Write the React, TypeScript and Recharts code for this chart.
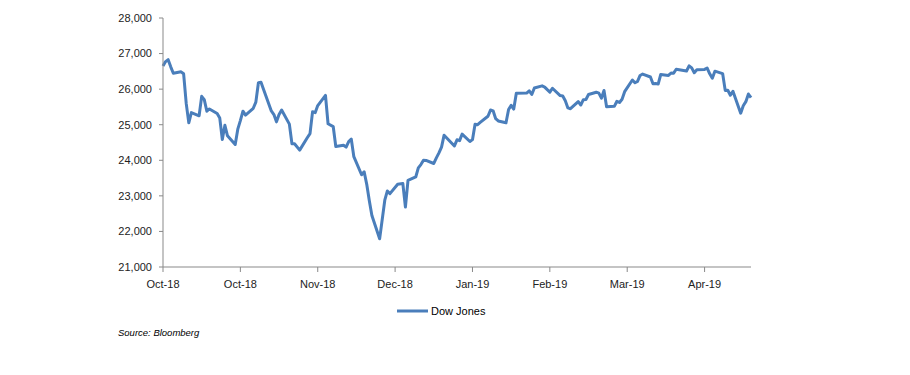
import React from "react";
import { LineChart, Line, XAxis, YAxis, Legend } from "recharts";

const dates: string[] = [
  // Oct 2018
  "2018-10-01","2018-10-02","2018-10-03","2018-10-04","2018-10-05","2018-10-08","2018-10-09","2018-10-10","2018-10-11","2018-10-12",
  "2018-10-15","2018-10-16","2018-10-17","2018-10-18","2018-10-19","2018-10-22","2018-10-23","2018-10-24","2018-10-25","2018-10-26",
  "2018-10-29","2018-10-30","2018-10-31",
  // Nov 2018
  "2018-11-01","2018-11-02","2018-11-05","2018-11-06","2018-11-07","2018-11-08","2018-11-09","2018-11-12","2018-11-13","2018-11-14",
  "2018-11-15","2018-11-16","2018-11-19","2018-11-20","2018-11-21","2018-11-23","2018-11-26","2018-11-27","2018-11-28","2018-11-29",
  "2018-11-30",
  // Dec 2018
  "2018-12-03","2018-12-04","2018-12-06","2018-12-07","2018-12-10","2018-12-11","2018-12-12","2018-12-13","2018-12-14","2018-12-17",
  "2018-12-18","2018-12-19","2018-12-20","2018-12-21","2018-12-24","2018-12-26","2018-12-27","2018-12-28","2018-12-31",
  // Jan 2019
  "2019-01-02","2019-01-03","2019-01-04","2019-01-07","2019-01-08","2019-01-09","2019-01-10","2019-01-11","2019-01-14","2019-01-15",
  "2019-01-16","2019-01-17","2019-01-18","2019-01-22","2019-01-23","2019-01-24","2019-01-25","2019-01-28","2019-01-29","2019-01-30",
  "2019-01-31",
  // Feb 2019
  "2019-02-01","2019-02-04","2019-02-05","2019-02-06","2019-02-07","2019-02-08","2019-02-11","2019-02-12","2019-02-13","2019-02-14",
  "2019-02-15","2019-02-19","2019-02-20","2019-02-21","2019-02-22","2019-02-25","2019-02-26","2019-02-27","2019-02-28",
  // Mar 2019
  "2019-03-01","2019-03-04","2019-03-05","2019-03-06","2019-03-07","2019-03-08","2019-03-11","2019-03-12","2019-03-13","2019-03-14",
  "2019-03-15","2019-03-18","2019-03-19","2019-03-20","2019-03-21","2019-03-22","2019-03-25","2019-03-26","2019-03-27","2019-03-28",
  "2019-03-29",
  // Apr 2019
  "2019-04-01","2019-04-02","2019-04-03","2019-04-04","2019-04-05","2019-04-08","2019-04-09","2019-04-10","2019-04-11","2019-04-12",
  "2019-04-15","2019-04-16","2019-04-17","2019-04-18","2019-04-22","2019-04-23","2019-04-24","2019-04-25","2019-04-26","2019-04-29",
  "2019-04-30",
  // May 2019
  "2019-05-01","2019-05-02","2019-05-03","2019-05-06","2019-05-07","2019-05-08","2019-05-09","2019-05-10","2019-05-13","2019-05-14",
  "2019-05-15","2019-05-16","2019-05-17",
];

const dowJones: number[] = [
  // Oct 2018
  26651, 26774, 26828, 26627, 26447, 26487, 26431, 25599, 25053, 25340,
  25251, 25798, 25707, 25379, 25444, 25317, 25191, 24583, 24985, 24688,
  24443, 24875, 25116,
  // Nov 2018
  25381, 25271, 25462, 25635, 26180, 26191, 25989, 25387, 25286, 25081,
  25289, 25413, 25017, 24466, 24465, 24286, 24640, 24749, 25366, 25339,
  25538,
  // Dec 2018
  25826, 25027, 24948, 24389, 24423, 24370, 24527, 24597, 24101, 23593,
  23676, 23324, 22860, 22445, 21792, 22878, 23139, 23062, 23327,
  // Jan 2019
  23346, 22686, 23433, 23531, 23787, 23879, 24002, 23996, 23910, 24066,
  24207, 24370, 24706, 24404, 24576, 24553, 24737, 24528, 24580, 25015,
  25000,
  // Feb 2019
  25064, 25239, 25412, 25390, 25170, 25106, 25053, 25426, 25543, 25439,
  25883, 25891, 25954, 25851, 26032, 26092, 26058, 25985, 25916,
  // Mar 2019
  26026, 25820, 25807, 25673, 25473, 25450, 25651, 25555, 25703, 25710,
  25849, 25914, 25887, 25746, 25963, 25502, 25517, 25658, 25626, 25717,
  25929,
  // Apr 2019
  26258, 26179, 26218, 26385, 26425, 26341, 26151, 26157, 26143, 26412,
  26385, 26453, 26450, 26560, 26511, 26656, 26597, 26462, 26543, 26554,
  26593,
  // May 2019
  26430, 26308, 26505, 26438, 25965, 25967, 25828, 25942, 25325, 25532,
  25648, 25863, 25764,
];

const seriesName = "Dow Jones";
const startDate = "2018-10-01";
const endDate = "2019-05-17";
const xTickDates: string[] = [
  "2018-10-01", "2018-10-31", "2018-11-30", "2018-12-30",
  "2019-01-29", "2019-02-28", "2019-03-30", "2019-04-29",
];
const xTickLabels: string[] = ["Oct-18", "Oct-18", "Nov-18", "Dec-18", "Jan-19", "Feb-19", "Mar-19", "Apr-19"];
const yTicks: number[] = [21000, 22000, 23000, 24000, 25000, 26000, 27000, 28000];
const sourceText = "Source: Bloomberg";

const DAY = 86400000;
const dayOf = (d: string) => Math.round((Date.parse(d) - Date.parse(startDate)) / DAY);

const data = dates.map((d, i) => ({ day: dayOf(d), value: dowJones[i] }));
const xTicks = xTickDates.map(dayOf);

const FONT = "'Liberation Sans', Arial, sans-serif";
const LINE_COLOR = "#4A7EBB";
const AXIS_COLOR = "#898989";

const LegendContent = () => (
  <div style={{ display: "flex", alignItems: "center", fontFamily: FONT, fontSize: 11, color: "#000", whiteSpace: "nowrap" }}>
    <svg width={31} height={6} style={{ display: "block" }}>
      <line x1={0} y1={3} x2={31} y2={3} stroke={LINE_COLOR} strokeWidth={3} />
    </svg>
    <span style={{ marginLeft: 3 }}>{seriesName}</span>
  </div>
);

export default function App() {
  return (
    <div style={{ position: "absolute", left: 0, top: 0, width: 910, height: 375, background: "#fff" }}>
      <LineChart
        width={910}
        height={375}
        data={data}
        margin={{ top: 18, right: 159, bottom: 78, left: 0 }}
      >
        <XAxis
          type="number"
          dataKey="day"
          domain={[0, dayOf(endDate)]}
          ticks={xTicks}
          interval={0}
          tickFormatter={(v: number) => xTickLabels[xTicks.indexOf(v)] ?? ""}
          axisLine={{ stroke: AXIS_COLOR }}
          tickLine={{ stroke: AXIS_COLOR }}
          tickSize={5}
          tickMargin={8}
          height={30}
          tick={{ fontSize: 11, fontFamily: FONT, fill: "#222" }}
        />
        <YAxis
          type="number"
          domain={[21000, 28000]}
          ticks={yTicks}
          interval={0}
          width={163}
          tickFormatter={(v: number) => v.toLocaleString("en-US")}
          axisLine={{ stroke: AXIS_COLOR }}
          tickLine={{ stroke: AXIS_COLOR }}
          tickSize={4}
          tickMargin={7}
          tick={{ fontSize: 11, fontFamily: FONT, fill: "#222" }}
        />
        <Legend
          layout="horizontal"
          verticalAlign="middle"
          align="center"
          content={<LegendContent />}
          wrapperStyle={{ top: 305, left: 397, width: "auto", height: "auto" }}
        />
        <Line
          type="linear"
          dataKey="value"
          name={seriesName}
          stroke={LINE_COLOR}
          strokeWidth={3}
          dot={false}
          activeDot={false}
          isAnimationActive={false}
          strokeLinejoin="round"
        />
      </LineChart>
      <div
        style={{
          position: "absolute",
          left: 118,
          top: 327,
          fontFamily: FONT,
          fontStyle: "italic",
          fontSize: 9.5,
          color: "#000",
          whiteSpace: "nowrap",
        }}
      >
        {sourceText}
      </div>
    </div>
  );
}
